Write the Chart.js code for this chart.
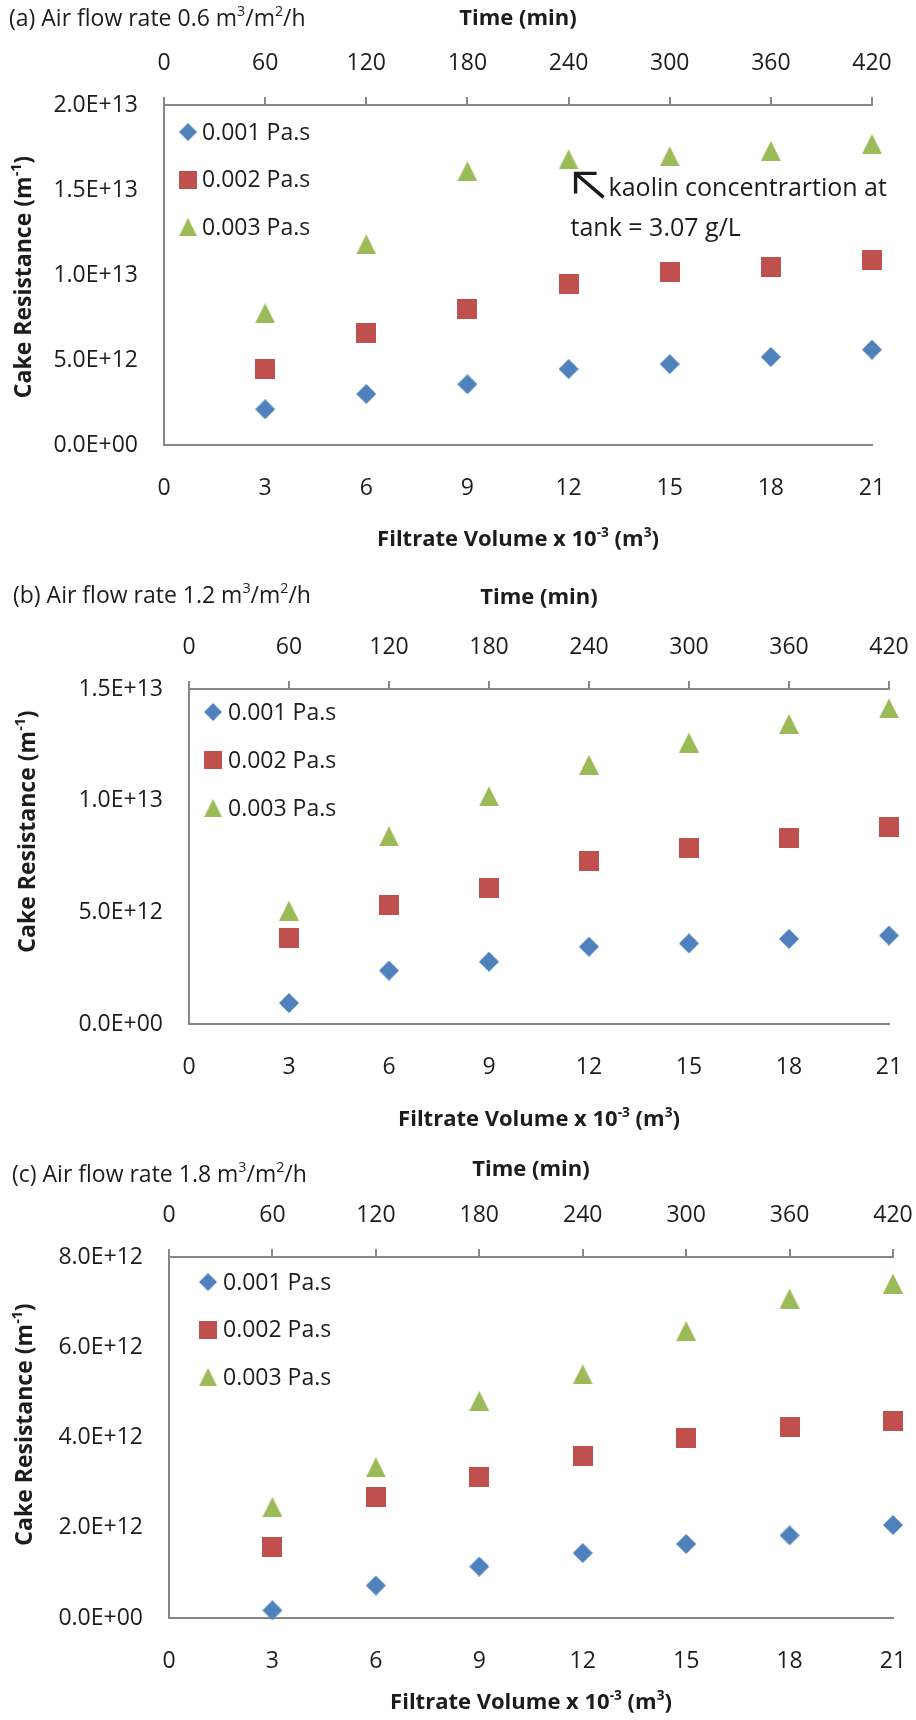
<!DOCTYPE html>
<html>
<head>
<meta charset="utf-8">
<script src="https://cdn.jsdelivr.net/npm/chart.js@4.4.1/dist/chart.umd.min.js"></script>
<style>
  html, body { margin: 0; padding: 0; background: #ffffff; }
  #page { position: relative; width: 916px; height: 1720px; overflow: hidden; background: #ffffff; }
  #page canvas { position: absolute; left: 0; }
</style>
</head>
<body>
<div id="page">
  <canvas id="panelA" width="916" height="570" style="top:0px"></canvas>
  <canvas id="panelB" width="916" height="580" style="top:570px"></canvas>
  <canvas id="panelC" width="916" height="570" style="top:1150px"></canvas>
</div>
<script>
// ---- data -------------------------------------------------------------
const filtrateVolume = [3, 6, 9, 12, 15, 18, 21];          // x 10^-3 m^3
const volumeTicks    = [0, 3, 6, 9, 12, 15, 18, 21];
const timeTicks      = [0, 60, 120, 180, 240, 300, 360, 420]; // min
const viscosityLabels = ['0.001 Pa.s', '0.002 Pa.s', '0.003 Pa.s'];

// cake resistance (m^-1), air flow rate 0.6 m3/m2/h
const resistanceA_001 = [2.10e12, 3.00e12, 3.57e12, 4.47e12, 4.76e12, 5.18e12, 5.61e12];
const resistanceA_002 = [4.49e12, 6.59e12, 7.98e12, 9.49e12, 10.20e12, 10.50e12, 10.86e12];
const resistanceA_003 = [7.75e12, 11.80e12, 16.10e12, 16.80e12, 16.98e12, 17.30e12, 17.70e12];
const resistanceTicksA = [0, 5e12, 1e13, 1.5e13, 2e13];

// air flow rate 1.2 m3/m2/h
const resistanceB_001 = [0.94e12, 2.39e12, 2.79e12, 3.46e12, 3.61e12, 3.81e12, 3.96e12];
const resistanceB_002 = [3.84e12, 5.33e12, 6.07e12, 7.31e12, 7.87e12, 8.31e12, 8.84e12];
const resistanceB_003 = [5.07e12, 8.40e12, 10.19e12, 11.60e12, 12.60e12, 13.43e12, 14.13e12];
const resistanceTicksB = [0, 5e12, 1e13, 1.5e13];

// air flow rate 1.8 m3/m2/h
const resistanceC_001 = [0.17e12, 0.72e12, 1.14e12, 1.44e12, 1.64e12, 1.83e12, 2.06e12];
const resistanceC_002 = [1.57e12, 2.68e12, 3.12e12, 3.59e12, 4.00e12, 4.24e12, 4.36e12];
const resistanceC_003 = [2.46e12, 3.34e12, 4.81e12, 5.40e12, 6.36e12, 7.08e12, 7.41e12];
const resistanceTicksC = [0, 2e12, 4e12, 6e12, 8e12];

// ---- styling ----------------------------------------------------------
const FAMILY = '"Open Sans", "Noto Sans", sans-serif';
const TEXT = '#1c1c1c';
const AXIS = '#868686';
const SERIES_COLORS = ['#4F81BD', '#C0504D', '#9BBB59'];

// Excel-like marker glyphs, 20 px boxes
function makeMarker(shape, color, size) {
  const c = document.createElement('canvas');
  c.width = size; c.height = size;
  const g = c.getContext('2d');
  g.fillStyle = color;
  g.beginPath();
  if (shape === 'diamond') {
    g.moveTo(size / 2, 0); g.lineTo(size, size / 2); g.lineTo(size / 2, size); g.lineTo(0, size / 2);
  } else if (shape === 'square') {
    g.rect(0, 0, size, size);
  } else {
    g.moveTo(size / 2, 0); g.lineTo(size, size); g.lineTo(0, size);
  }
  g.closePath();
  g.fill();
  return c;
}
const MARKERS = [
  makeMarker('diamond', SERIES_COLORS[0], 20),
  makeMarker('square', SERIES_COLORS[1], 20),
  makeMarker('triangle', SERIES_COLORS[2], 20)
];

function sciLabel(v) {
  if (v === 0) return '0.0E+00';
  const e = Math.floor(Math.log10(Math.abs(v)) + 1e-9);
  const m = v / Math.pow(10, e);
  return m.toFixed(1) + 'E' + (e < 0 ? '-' : '+') + String(Math.abs(e)).padStart(2, '0');
}

// text with superscript parts: [[text, isSup], ...]
function drawRich(ctx, parts, x, y, size, weight, align) {
  let total = 0;
  const widths = parts.map(p => {
    ctx.font = `${weight} ${p[1] ? size * 0.62 : size}px ${FAMILY}`;
    const w = ctx.measureText(p[0]).width;
    total += w;
    return w;
  });
  let cx = align === 'center' ? x - total / 2 : x;
  ctx.textAlign = 'left';
  ctx.textBaseline = 'middle';
  parts.forEach((p, i) => {
    ctx.font = `${weight} ${p[1] ? size * 0.62 : size}px ${FAMILY}`;
    ctx.fillText(p[0], cx, p[1] ? y - size * 0.3 : y);
    cx += widths[i];
  });
}

// titles, legend and note drawn around the plot
const panelDecor = {
  id: 'panelDecor',
  afterDraw(chart, args, o) {
    const ctx = chart.ctx;
    const a = chart.chartArea;
    ctx.save();
    ctx.fillStyle = TEXT;

    drawRich(ctx, [[o.letter + ' Air flow rate ' + o.rate + ' m'], ['3', 1], ['/m'], ['2', 1], ['/h']],
      o.titleX, o.titleY, 23, 'normal', 'left');

    const midX = (a.left + a.right) / 2;
    drawRich(ctx, [['Time (min)']], midX, a.top + o.timeTitleDY, 22, 'bold', 'center');
    drawRich(ctx, [['Filtrate Volume x 10'], ['-3', 1], [' (m'], ['3', 1], [')']],
      midX, a.bottom + o.volTitleDY, 22, 'bold', 'center');

    ctx.save();
    ctx.translate(o.yTitleX, (a.top + a.bottom) / 2 + o.yTitleDY);
    ctx.rotate(-Math.PI / 2);
    drawRich(ctx, [['Cake Resistance (m'], ['-1', 1], [')']], 0, 0, 23, 'bold', 'center');
    ctx.restore();

    // legend
    chart.data.datasets.forEach((ds, i) => {
      const cx = a.left + o.legend.dx;
      const cy = a.top + o.legend.dy + i * o.legend.gap;
      const s = 18;
      ctx.drawImage(ds.pointStyle, cx - s / 2, cy - s / 2, s, s);
      ctx.fillStyle = TEXT;
      ctx.font = `23px ${FAMILY}`;
      ctx.textAlign = 'left';
      ctx.textBaseline = 'middle';
      ctx.fillText(ds.label, cx + o.legend.textDX, cy + 1);
    });

    // note with arrow pointing to a marker
    if (o.note) {
      const el = chart.getDatasetMeta(o.note.dataset).data[o.note.index];
      const tipX = el.x + 7, tipY = el.y + 14;
      ctx.strokeStyle = '#1a1a1a';
      ctx.lineWidth = 3.4;
      ctx.lineCap = 'butt';
      ctx.lineJoin = 'miter';
      ctx.beginPath();
      ctx.moveTo(tipX + 28, tipY + 24);
      ctx.lineTo(tipX + 1, tipY + 1);
      ctx.stroke();
      ctx.beginPath();
      ctx.moveTo(tipX + 21, tipY);
      ctx.lineTo(tipX, tipY);
      ctx.lineTo(tipX, tipY + 20);
      ctx.stroke();
      ctx.fillStyle = TEXT;
      ctx.font = `25px ${FAMILY}`;
      ctx.textAlign = 'left';
      ctx.textBaseline = 'middle';
      ctx.fillText(o.note.lines[0], tipX + 33, tipY + 15);
      ctx.fillText(o.note.lines[1], tipX - 5, tipY + 55);
    }
    ctx.restore();
  }
};

function tickList(arr) {
  return scale => { scale.ticks = arr.map(v => ({ value: v })); };
}

function buildPanel(p) {
  const canvas = document.getElementById(p.id);
  const H = canvas.height;
  const W = canvas.width;
  const tickFont = { family: FAMILY, size: 23 };
  const datasets = p.series.map((vals, i) => ({
    label: viscosityLabels[i],
    data: filtrateVolume.map((x, k) => ({ x: x, y: vals[k] })),
    pointStyle: MARKERS[i],
    pointRadius: 10,
    showLine: false,
    clip: false,
    xAxisID: 'x',
    yAxisID: 'y'
  }));

  return new Chart(canvas, {
    type: 'scatter',
    data: { datasets },
    options: {
      responsive: false,
      animation: false,
      events: [],
      layout: { padding: { left: 0, top: 0, bottom: 0, right: W - p.box.right } },
      plugins: {
        legend: { display: false },
        tooltip: { enabled: false },
        panelDecor: p.decor
      },
      scales: {
        x: {
          type: 'linear', position: 'bottom', min: 0, max: 21,
          afterBuildTicks: tickList(volumeTicks),
          ticks: { font: tickFont, color: TEXT, padding: 30, maxRotation: 0, autoSkip: false },
          grid: { display: false, drawTicks: false, tickLength: 0 },
          border: { display: true, color: AXIS, width: 2 },
          afterFit(s) { s.height = H - p.box.bottom; s.paddingLeft = 0; s.paddingRight = 0; }
        },
        time: {
          type: 'linear', position: 'top', min: 0, max: 420,
          afterBuildTicks: tickList(timeTicks),
          ticks: { font: tickFont, color: TEXT, padding: 20, maxRotation: 0, autoSkip: false },
          grid: { display: true, drawOnChartArea: false, drawTicks: true, tickLength: 8, color: AXIS, lineWidth: 2 },
          border: { display: true, color: AXIS, width: 2 },
          afterFit(s) { s.height = p.box.top; s.paddingLeft = 0; s.paddingRight = 0; }
        },
        y: {
          type: 'linear', position: 'left', min: 0, max: p.yTicks[p.yTicks.length - 1],
          afterBuildTicks: tickList(p.yTicks),
          ticks: { font: tickFont, color: TEXT, padding: 26, callback: v => sciLabel(v) },
          grid: { display: false, drawTicks: false, tickLength: 0 },
          border: { display: true, color: AXIS, width: 2 },
          afterFit(s) { s.width = p.box.left; s.paddingTop = 0; s.paddingBottom = 0; }
        }
      }
    },
    plugins: [panelDecor]
  });
}

const panels = [
  {
    id: 'panelA',
    series: [resistanceA_001, resistanceA_002, resistanceA_003],
    yTicks: resistanceTicksA,
    box: { left: 164, right: 872, top: 105, bottom: 445 },
    decor: {
      letter: '(a)', rate: '0.6', titleX: 9, titleY: 19,
      timeTitleDY: -86, volTitleDY: 95, yTitleX: 24, yTitleDY: 2,
      legend: { dx: 24, dy: 27, gap: 47.5, textDX: 14 },
      note: { dataset: 2, index: 3, lines: ['kaolin concentrartion at', 'tank = 3.07 g/L'] }
    }
  },
  {
    id: 'panelB',
    series: [resistanceB_001, resistanceB_002, resistanceB_003],
    yTicks: resistanceTicksB,
    box: { left: 189, right: 889, top: 119, bottom: 454 },
    decor: {
      letter: '(b)', rate: '1.2', titleX: 13, titleY: 26,
      timeTitleDY: -91, volTitleDY: 96, yTitleX: 28, yTitleDY: -25,
      legend: { dx: 24, dy: 23, gap: 48, textDX: 15 },
      note: null
    }
  },
  {
    id: 'panelC',
    series: [resistanceC_001, resistanceC_002, resistanceC_003],
    yTicks: resistanceTicksC,
    box: { left: 169, right: 893, top: 107, bottom: 468 },
    decor: {
      letter: '(c)', rate: '1.8', titleX: 12, titleY: 25,
      timeTitleDY: -87, volTitleDY: 85, yTitleX: 25, yTitleDY: -13,
      legend: { dx: 39, dy: 25, gap: 47.5, textDX: 15 },
      note: null
    }
  }
];

function buildAll() { panels.forEach(buildPanel); }

if (document.fonts && document.fonts.load) {
  Promise.all([
    document.fonts.load(`23px ${FAMILY}`),
    document.fonts.load(`bold 22px ${FAMILY}`)
  ]).then(buildAll, buildAll);
} else {
  buildAll();
}
</script>
</body>
</html>
